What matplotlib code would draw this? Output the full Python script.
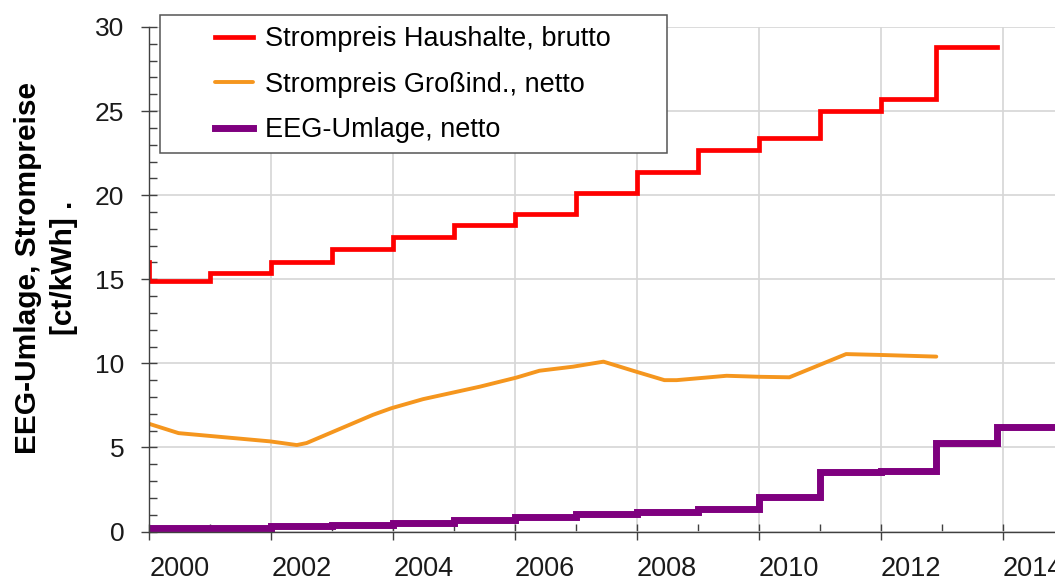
import matplotlib
matplotlib.use("Agg")
import matplotlib.pyplot as plt
from matplotlib.patches import Rectangle

plt.rcParams['font.family'] = ['Liberation Sans', 'DejaVu Sans']

# step start years (2013 change shows up slightly before the year mark)
step_years = [2000, 2001, 2002, 2003, 2004, 2005, 2006, 2007, 2008, 2009,
              2010, 2011, 2012, 2012.9]

# household price, gross (ct/kWh); first value is the level before 2000
red_prev_year = 1999
red_prev_val = 16.0
red_vals = [14.9, 15.4, 16.0, 16.8, 17.5, 18.2, 18.9, 20.1, 21.4, 22.7,
            23.4, 25.0, 25.7, 28.8]
red_end = 2013.9

# EEG surcharge, net (ct/kWh)
eeg_years = step_years + [2013.9]
eeg_vals = [0.20, 0.23, 0.35, 0.41, 0.51, 0.69, 0.88, 1.02, 1.16, 1.31,
            2.05, 3.53, 3.59, 5.28, 6.24]
eeg_end = 2015.5

# large industry price, net (ct/kWh)
ind_x = [2000.0, 2000.48, 2001.98, 2002.42, 2002.58, 2003.67, 2003.97, 2004.49,
         2005.42, 2006.02, 2006.4, 2006.95, 2007.45, 2007.99, 2008.45, 2008.65,
         2009.47, 2010.01, 2010.5, 2011.43, 2011.98, 2012.91]
ind_y = [6.4, 5.85, 5.36, 5.14, 5.26, 6.94, 7.33, 7.87,
         8.61, 9.15, 9.56, 9.8, 10.1, 9.5, 9.0, 9.0,
         9.26, 9.2, 9.17, 10.55, 10.5, 10.4]

labels = ["Strompreis Haushalte, brutto", "Strompreis Großind., netto", "EEG-Umlage, netto"]
colors = ["#ff0000", "#f5961e", "#7f007f"]

W, H = 1055, 585
fig = plt.figure(figsize=(W / 100, H / 100), dpi=100)
x0, x1, y0, y1 = 149.3, 1055, 27, 531.5
ax = fig.add_axes([x0 / W, 1 - y1 / H, (x1 - x0) / W, (y1 - y0) / H])

l_red, = ax.step([red_prev_year] + step_years + [red_end],
                 [red_prev_val] + red_vals + [red_vals[-1]],
                 where='post', color=colors[0], lw=3.4, solid_joinstyle='miter')
l_ind, = ax.plot(ind_x, ind_y, color=colors[1], lw=2.8,
                 solid_joinstyle='round', solid_capstyle='round')
l_eeg, = ax.step(eeg_years + [eeg_end], eeg_vals + [eeg_vals[-1]],
                 where='post', color=colors[2], lw=5.0, solid_joinstyle='miter')

ax.set_xlim(2000, 2000 + (x1 - x0) / 60.96)
ax.set_ylim(0, 30)
ax.set_xticks(range(2000, 2015, 2))
ax.set_xticks(range(2001, 2015, 2), minor=True)
ax.set_yticks(range(0, 31, 5))
ax.set_yticks(range(0, 31, 1), minor=True)

ax.tick_params(which='major', direction='inout', length=12, width=1,
               color='#404040', labelcolor='#1a1a1a')
ax.tick_params(which='minor', direction='in', length=6, width=1, color='#404040')
ax.tick_params(axis='x', pad=12, labelsize=19.5)
ax.tick_params(axis='y', pad=12, labelsize=19)
for lab in ax.get_xticklabels():
    lab.set_horizontalalignment('left')

ax.grid(which='major', color='#d6d6d6', lw=1.2)
ax.set_axisbelow(True)
for s in ['top', 'right']:
    ax.spines[s].set_visible(False)
for s in ['left', 'bottom']:
    ax.spines[s].set_color('#404040')
    ax.spines[s].set_linewidth(1)

fig.text(46 / W, 1 - 268 / H, "EEG-Umlage, Strompreise\n[ct/kWh] .",
         rotation=90, ha='center', va='center', multialignment='center',
         fontsize=21.5, fontweight='bold', linespacing=1.35)

# legend frame drawn separately (content sits far from the left border)
frame = Rectangle((160 / W, 1 - 153 / H), 507 / W, 138 / H, transform=fig.transFigure,
                  facecolor='white', edgecolor='#555555', lw=1.1, zorder=4)
fig.add_artist(frame)
leg = fig.legend([l_red, l_ind, l_eeg], labels, loc='upper left',
                 bbox_to_anchor=(215 / W, 1 - 26 / H), frameon=False,
                 fontsize=19.5, borderpad=0, borderaxespad=0, handlelength=1.4,
                 handletextpad=0.45, labelspacing=0.72)
leg.set_zorder(5)

fig.savefig("out.png", dpi=100)
